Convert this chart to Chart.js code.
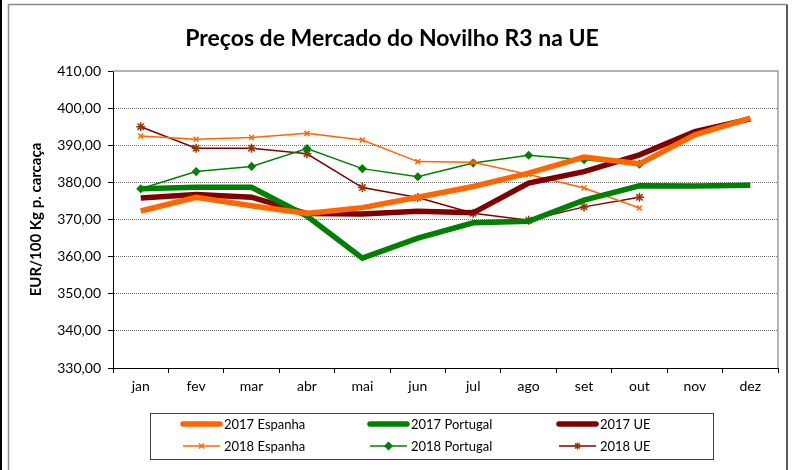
<!DOCTYPE html>
<html>
<head>
<meta charset="utf-8">
<script src="https://cdn.jsdelivr.net/npm/chart.js@4/dist/chart.umd.min.js"></script>
<style>
  html, body { margin: 0; padding: 0; background: #fff; }
  #wrap { position: relative; width: 794px; height: 470px; }
</style>
</head>
<body>
<div id="wrap"><canvas id="chart" width="794" height="470"></canvas></div>
<script>
const months = ['jan', 'fev', 'mar', 'abr', 'mai', 'jun', 'jul', 'ago', 'set', 'out', 'nov', 'dez']

const espanha2017 = [372.3, 376.0, 373.7, 371.6, 373.2, 376.0, 378.9, 382.5, 386.8, 385.0, 392.8, 397.3]
const portugal2017 = [378.3, 378.7, 378.7, 370.9, 359.6, 365.0, 369.1, 369.5, 375.2, 379.1, 379.0, 379.2]
const ue2017 = [375.8, 376.7, 376.0, 371.6, 371.5, 372.2, 371.8, 379.8, 382.9, 387.4, 393.7, 397.1]

const espanha2018 = [392.5, 391.6, 392.1, 393.2, 391.4, 385.6, 385.4, 382.1, 378.5, 373.1, null, null]
const portugal2018 = [378.3, 382.9, 384.3, 389.1, 383.7, 381.5, 385.2, 387.3, 386.1, 384.9, null, null]
const ue2018 = [395.0, 389.2, 389.2, 387.7, 378.6, 375.9, 371.7, 369.8, 373.4, 376.0, null, null]

const yTicks = [330, 340, 350, 360, 370, 380, 390, 400, 410]

const FONT = 'Lato, "Open Sans", sans-serif'

const thick = (label, data, colour) => ({
  label, data, borderColor: colour, backgroundColor: colour,
  borderWidth: 5.5, pointRadius: 0, pointStyle: false, tension: 0,
  legendMarker: null
})

const thin = (label, data, colour, marker, markerColour) => ({
  label, data, borderColor: colour, backgroundColor: markerColour,
  pointBorderColor: markerColour, pointBackgroundColor: markerColour,
  borderWidth: 1.5, pointRadius: 3.5, pointBorderWidth: 1.5,
  pointStyle: marker, tension: 0, legendMarker: marker
})

const datasets = [
  thick('2017 Espanha', espanha2017, '#ff6600'),
  thick('2017 Portugal', portugal2017, '#008000'),
  thick('2017 UE', ue2017, '#800000'),
  thin('2018 Espanha', espanha2018, '#ff6600', 'crossRot', '#ff6600'),
  thin('2018 Portugal', portugal2018, '#008000', 'rectRot', '#008000'),
  thin('2018 UE', ue2018, '#800000', 'star', '#993300')
]
datasets[5].pointRadius = 4.5
// draw the thin 2018 lines under the thick ones like the original
datasets[3].order = 2
datasets[4].order = 2
datasets[5].order = 2

const frame = {
  id: 'frame',
  beforeDraw(chart) {
    const ctx = chart.ctx
    ctx.save()
    ctx.fillStyle = '#fff'
    ctx.fillRect(0, 0, chart.width, chart.height)
    ctx.fillStyle = '#000'
    ctx.fillRect(0, 0, 2, chart.height)
    ctx.strokeStyle = '#8c8c8c'
    ctx.lineWidth = 1.5
    ctx.beginPath()
    ctx.moveTo(8.5, chart.height + 2)
    ctx.lineTo(8.5, 4.5)
    ctx.lineTo(786.5, 4.5)
    ctx.stroke()
    ctx.strokeStyle = '#222'
    ctx.beginPath()
    ctx.moveTo(787, 4.5)
    ctx.lineTo(787, chart.height + 2)
    ctx.stroke()
    ctx.restore()
  },
  afterDraw(chart) {
    const ctx = chart.ctx
    const a = chart.chartArea
    ctx.save()
    // plot area top / right border
    ctx.strokeStyle = '#9a9a9a'
    ctx.lineWidth = 1.5
    ctx.beginPath()
    ctx.moveTo(a.left, a.top)
    ctx.lineTo(a.right, a.top)
    ctx.lineTo(a.right, a.bottom)
    ctx.stroke()

    // title
    ctx.fillStyle = '#000'
    ctx.font = 'bold 23px ' + FONT
    ctx.textAlign = 'center'
    ctx.textBaseline = 'middle'
    ctx.fillText('Preços de Mercado do Novilho R3 na UE', 392, 39)

    // legend box
    ctx.strokeStyle = '#444'
    ctx.lineWidth = 1
    ctx.strokeRect(150.5, 413.5, 563, 46)
    const cols = [183, 370, 559]
    const rows = [424, 446]
    ctx.font = '13px ' + FONT
    ctx.textAlign = 'left'
    chart.data.datasets.forEach((ds, i) => {
      const x = cols[i % 3]
      const y = rows[Math.floor(i / 3)]
      ctx.strokeStyle = ds.borderColor
      ctx.lineWidth = ds.borderWidth
      ctx.lineCap = ds.legendMarker ? 'butt' : 'round'
      ctx.beginPath()
      ctx.moveTo(x, y)
      ctx.lineTo(x + 37, y)
      ctx.stroke()
      if (ds.legendMarker) {
        ctx.fillStyle = ds.pointBackgroundColor
        ctx.strokeStyle = ds.pointBorderColor
        ctx.lineWidth = 1.5
        Chart.helpers.drawPoint(ctx, { pointStyle: ds.legendMarker, radius: 3.5, borderWidth: 1.5, rotation: 0 }, x + 18.5, y)
      }
      ctx.fillStyle = '#000'
      ctx.fillText(ds.label, x + 41, y + 1)
    })
    ctx.restore()
  }
}

new Chart(document.getElementById('chart'), {
  type: 'line',
  data: { labels: months, datasets },
  options: {
    responsive: false,
    animation: false,
    events: [],
    layout: { padding: { left: 20, right: 16, top: 71, bottom: 0 } },
    plugins: { legend: { display: false }, title: { display: false }, tooltip: { enabled: false } },
    scales: {
      x: {
        offset: true,
        afterFit(scale) { scale.height = 102 },
        grid: { drawOnChartArea: false, drawTicks: true, tickLength: 5, tickColor: '#000', offset: true },
        border: { color: '#000', width: 1 },
        ticks: { color: '#000', font: { family: FONT, size: 14 }, padding: 5 }
      },
      y: {
        min: 330,
        max: 410,
        afterFit(scale) { scale.width = 93 },
        afterBuildTicks(scale) { scale.ticks = yTicks.map(v => ({ value: v })) },
        grid: {
          color: ctx => (ctx.tick && (ctx.tick.value === 330 || ctx.tick.value === 410)) ? 'rgba(0,0,0,0)' : '#6e6e6e',
          lineWidth: 1,
          drawTicks: true,
          tickLength: 5,
          tickColor: '#000'
        },
        border: { color: '#000', width: 1, dash: [1, 1] },
        ticks: {
          color: '#000',
          padding: 7,
          font: { family: FONT, size: 14 },
          callback: v => v.toFixed(2).replace('.', ',')
        },
        title: {
          display: true,
          text: 'EUR/100 Kg p. carcaça',
          color: '#000',
          font: { family: FONT, size: 15, weight: 'bold' },
          padding: { top: 7, bottom: 4 }
        }
      }
    }
  },
  plugins: [frame]
})
</script>
</body>
</html>
